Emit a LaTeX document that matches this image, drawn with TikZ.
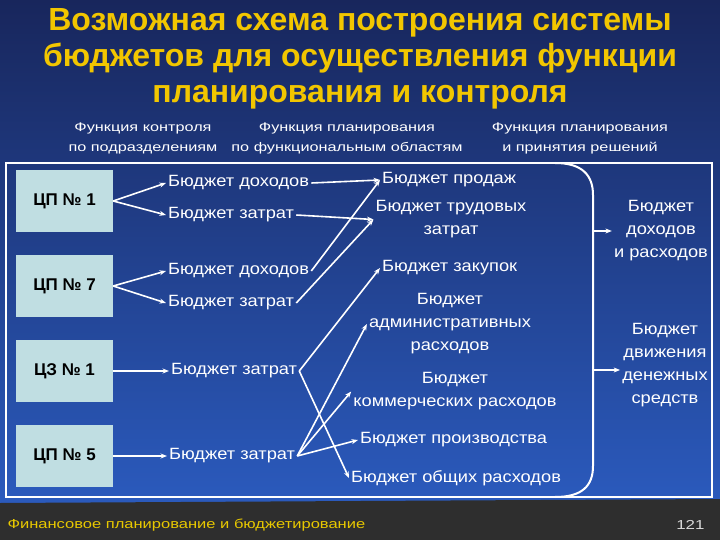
\documentclass[tikz,border=0pt]{standalone}
\usepackage{fontspec}
\setmainfont{Liberation Sans}
\newfontfamily\bodyf[FakeStretch=1.12]{Liberation Sans}
\newfontfamily\widef[FakeStretch=1.3]{Liberation Sans}
\newfontfamily\footf[FakeStretch=1.27]{Liberation Sans}
\usetikzlibrary{arrows.meta}
\definecolor{bgtop}{RGB}{24,38,92}
\definecolor{bgbot}{RGB}{44,94,196}
\definecolor{titley}{RGB}{242,198,0}
\definecolor{footy}{RGB}{232,200,0}
\definecolor{footbg}{RGB}{46,46,46}
\definecolor{boxc}{RGB}{192,222,226}
\begin{document}
\begin{tikzpicture}[x=1pt,y=-1pt,
  titletxt/.style={font=\fontsize{32}{36}\selectfont\bfseries, text=titley, inner sep=1pt, align=center},
  hdr/.style={font=\widef\fontsize{12.5}{20}\selectfont, text=white, align=center},
  cbox/.style={fill=boxc, minimum width=97pt, minimum height=62pt, inner sep=0pt, font=\fontsize{17}{20}\selectfont\bfseries, text=black},
  btxt/.style={font=\bodyf\fontsize{16.3}{23}\selectfont, text=white, align=center, inner sep=2pt},
  arr/.style={white, line width=1.6pt, -{Stealth[length=6.5pt,width=5pt]}},
  frame/.style={white, line width=2pt}
]
\useasboundingbox (0,0) rectangle (720,540);
\shade[top color=bgtop, bottom color=bgbot] (0,0) rectangle (720,540);
\fill[footbg] (0,503) -- (720,499) -- (720,540) -- (0,540) -- cycle;

% title
\node[titletxt] (ttl) at (360,59) {Возможная схема построения системы\\бюджетов для осуществления функции\\планирования и контроля};

% headers
\node[hdr] (h1) at (143,138) {Функция контроля\\по подразделениям};
\node[hdr] (h2) at (347,138) {Функция планирования\\по функциональным областям};
\node[hdr] (h3) at (580,138) {Функция планирования\\и принятия решений};

% frame
\draw[frame] (6,163) rectangle (712,497);

% boxes
\node[cbox] (cp1) at (64.5,201) {ЦП № 1};
\node[cbox] (cp7) at (64.5,286) {ЦП № 7};
\node[cbox] (cz1) at (64.5,371) {ЦЗ № 1};
\node[cbox] (cp5) at (64.5,456) {ЦП № 5};

% column 1
\node[btxt, anchor=west] (t1) at (166,183) {Бюджет доходов};
\node[btxt, anchor=west] (t2) at (166,215) {Бюджет затрат};
\node[btxt, anchor=west] (t3) at (166,271) {Бюджет доходов};
\node[btxt, anchor=west] (t4) at (166,303) {Бюджет затрат};
\node[btxt, anchor=west] (t5) at (169,371) {Бюджет затрат};
\node[btxt, anchor=west] (t6) at (167,456) {Бюджет затрат};

% column 2
\node[btxt, anchor=west] (s1) at (380,180) {Бюджет продаж};
\node[btxt] (s2) at (451,219.5) {Бюджет трудовых\\затрат};
\node[btxt, anchor=west] (s3) at (380,268) {Бюджет закупок};
\node[btxt] (s4) at (450,324) {Бюджет\\административных\\расходов};
\node[btxt] (s5) at (455,391.5) {Бюджет\\коммерческих расходов};
\node[btxt, anchor=west] (s6) at (358,440) {Бюджет производства};
\node[btxt, anchor=west] (s7) at (349,478) {Бюджет общих расходов};

% column 3
\node[btxt] (r1) at (661,231) {Бюджет\\доходов\\и расходов};
\node[btxt] (r2) at (665,365.5) {Бюджет\\движения\\денежных\\средств};

% bracket
\draw[frame] (555,163) .. controls (582,163) and (593,175) .. (593,195) -- (593,466) .. controls (593,486) and (582,497) .. (555,497);
\coordinate (b1) at (593,231);
\coordinate (b2) at (593,370);

% connectors
\draw[arr] (cp1.east) -- (t1.west);
\draw[arr] (cp1.east) -- (t2.west);
\draw[arr] (cp7.east) -- (t3.west);
\draw[arr] (cp7.east) -- (t4.west);
\draw[arr] (cz1.east) -- (t5.west);
\draw[arr] (cp5.east) -- (t6.west);

\draw[arr] (t1.east) -- (s1.west);
\draw[arr] (t3.east) -- (s1.west);
\draw[arr] (t2.east) -- (s2.west);
\draw[arr] (t4.east) -- (s2.west);
\draw[arr] (t5.east) -- (s3.west);
\draw[arr] (t5.east) -- (s7.west);
\draw[arr] (t6.east) -- (s4.west);
\draw[arr] (t6.east) -- (s5.west);
\draw[arr] (t6.east) -- (s6.west);

\draw[arr] (b1) -- (b1 -| r1.west);
\draw[arr] (b2) -- (b2 -| r2.west);

% footer
\node[font=\footf\fontsize{13}{15}\selectfont, text=footy, anchor=west] (ft) at (4,525) {Финансовое планирование и бюджетирование};
\node[font=\widef\fontsize{13}{15}\selectfont, text=white!85!black, anchor=east] (pg) at (708,525) {121};
\end{tikzpicture}
\end{document}
